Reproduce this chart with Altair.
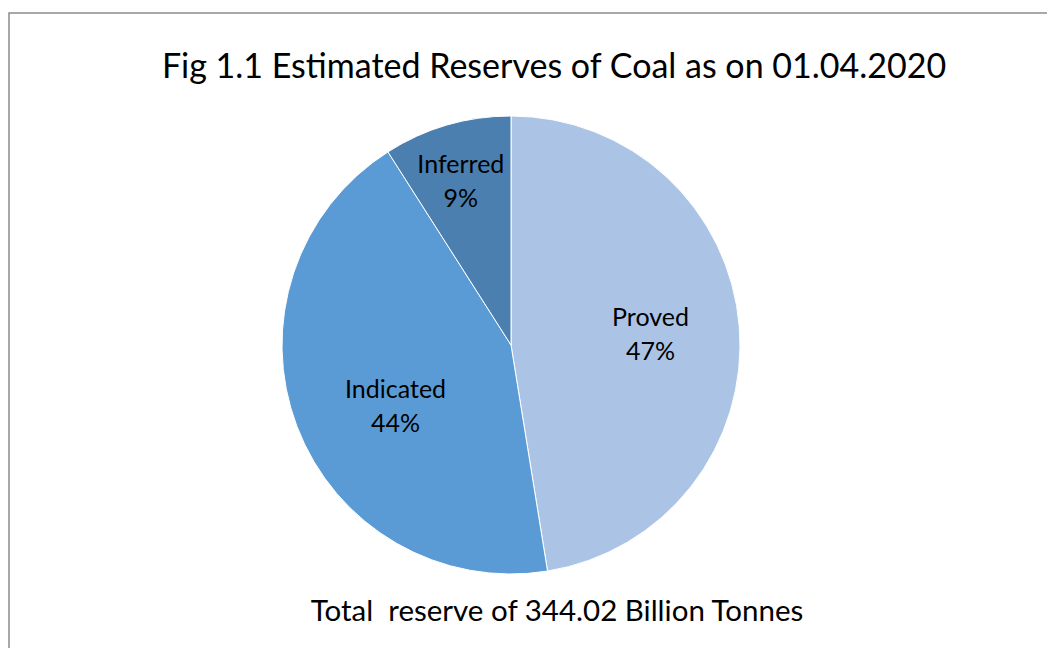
import altair as alt
import pandas as pd
import math

categories = ["Proved", "Indicated", "Inferred"]
values = [163.24, 149.71, 31.07]  # billion tonnes
colors = ["#abc4e6", "#5b9bd5", "#4a7fb0"]
title_text = "Fig 1.1 Estimated Reserves of Coal as on 01.04.2020"
footer_text = "Total\u00a0 reserve of 344.02 Billion Tonnes"

total = sum(values)
df = pd.DataFrame({
    "cat": categories,
    "val": values,
    "order": list(range(len(categories))),
})
df["label"] = [f"{c}\n{round(v / total * 100)}%" for c, v in zip(categories, values)]

FONT = "Lato"
W, H = 1047, 648
CX, CY, R = 511, 345, 229

theta_scale = alt.Scale(domain=[0, total], range=[0, 2 * math.pi])

pie = alt.Chart(df).mark_arc(outerRadius=R, stroke="white", strokeWidth=1).encode(
    theta=alt.Theta("val:Q", stack=True, scale=theta_scale),
    order=alt.Order("order:Q"),
    x=alt.value(CX), y=alt.value(CY),
    color=alt.Color("cat:N", scale=alt.Scale(domain=categories, range=colors), legend=None),
)

lab_base = alt.Chart(df).transform_window(
    cum="sum(val)", sort=[alt.SortField("order")]
).transform_calculate(mid="datum.cum - datum.val / 2")

def lab(cat, r, dx=0, dy=0):
    return lab_base.transform_filter(alt.datum.cat == cat).mark_text(
        radius=r, font=FONT, fontSize=25, color="#000000", lineBreak="\n",
        lineHeight=34, align="center", baseline="middle", dx=dx, dy=dy,
    ).encode(
        theta=alt.Theta("mid:Q", scale=theta_scale),
        x=alt.value(CX), y=alt.value(CY), text="label:N",
    )

labels = (lab("Proved", 140, dx=0, dy=-16)
          + lab("Indicated", 131, dx=7, dy=-2)
          + lab("Inferred", 172, dx=-2, dy=-15))

frame = alt.Chart(pd.DataFrame({"a": [0]})).mark_rect(
    fill=None, stroke="#8c8c8c", strokeWidth=1.5
).encode(x=alt.value(9), x2=alt.value(1100), y=alt.value(13), y2=alt.value(700))

title = alt.Chart(pd.DataFrame({"t": [title_text]})).mark_text(
    font=FONT, fontSize=34, color="#000000", align="center", baseline="middle"
).encode(x=alt.value(554), y=alt.value(68), text="t:N")

footer = alt.Chart(pd.DataFrame({"t": [footer_text]})).mark_text(
    font=FONT, fontSize=29.5, color="#000000", align="center", baseline="middle"
).encode(x=alt.value(557), y=alt.value(612), text="t:N")

chart = alt.layer(frame, pie, labels, title, footer).properties(
    width=W, height=H, padding=0, autosize=alt.AutoSizeParams(type="none"),
    background="white",
).configure_view(stroke=None)

chart.save("out.html", embed_options={"renderer": "svg", "actions": False})
